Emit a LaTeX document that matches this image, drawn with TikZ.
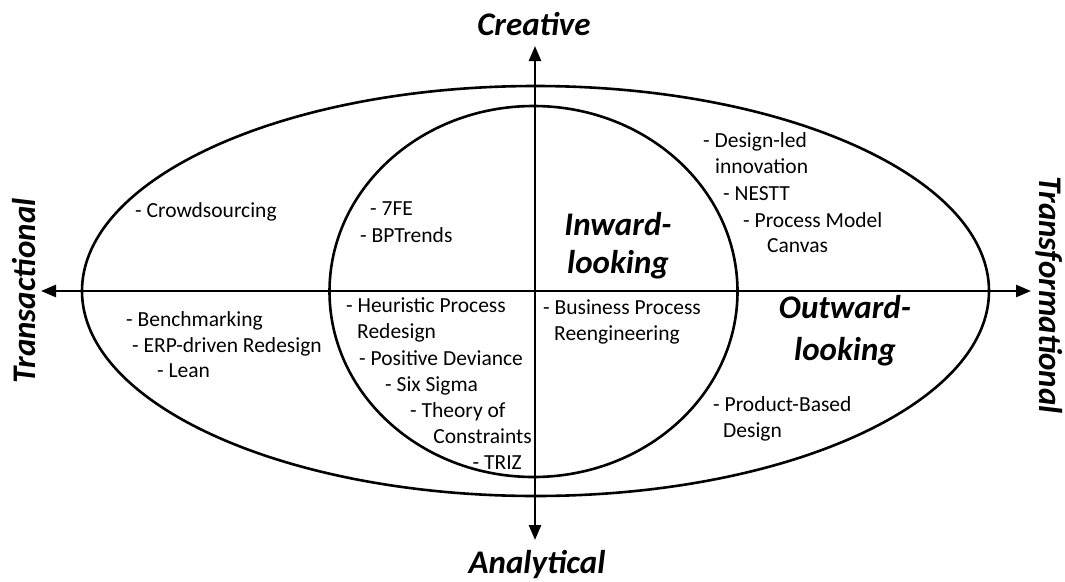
\documentclass[tikz,border=0pt]{standalone}
\usepackage{fontspec}
\setmainfont{Carlito}
\usetikzlibrary{arrows.meta}
\tikzset{
  item/.style={anchor=base west, inner sep=0pt, font=\fontsize{21.5}{26}\selectfont},
  itemr/.style={anchor=base east, inner sep=0pt, font=\fontsize{21.5}{26}\selectfont},
  big/.style={inner sep=0pt, font=\fontsize{33}{38}\selectfont\bfseries\itshape},
  ring/.style={line width=2.6pt},
  axis/.style={line width=2.6pt, {Triangle[length=15pt,width=12pt]}-{Triangle[length=15pt,width=12pt]}}
}
\begin{document}
\begin{tikzpicture}[x=1pt,y=-1pt]
\useasboundingbox (0,0) rectangle (1065,581);
% ellipses
\draw[ring] (535.5,291) ellipse [x radius=453.5, y radius=205];
\draw[ring] (533.5,291.5) ellipse [x radius=204, y radius=185.5];
% axes
\coordinate (top) at (535,46);
\coordinate (bottom) at (535,540);
\coordinate (left) at (41,291);
\coordinate (right) at (1031,291);
\draw[axis] (bottom) -- (top);
\draw[axis] (left) -- (right);
% axis labels
\node[big, anchor=base] (creative) at (534,35) {Creative};
\node[big, anchor=base] (analytical) at (537,573) {Analytical};
\node[big, anchor=base, rotate=90] (transactional) at (35,291) {Transactional};
\node[big, anchor=base, rotate=-90] (transformational) at (1039,295) {Transformational};
% quadrant labels
\node[big, anchor=base] (inward1) at (618,235) {Inward-};
\node[big, anchor=base] (inward2) at (618,273) {looking};
\node[big, anchor=base] (outward1) at (845,318) {Outward-};
\node[big, anchor=base] (outward2) at (845,360) {looking};
% items upper left
\node[item] (crowd) at (135,217) {- Crowdsourcing};
% items inner upper left
\node[item] (sevenfe) at (370,215) {- 7FE};
\node[item] (bptrends) at (360,242) {- BPTrends};
% items upper right
\node[item] (design1) at (703,147) {- Design-led};
\node[item] (design2) at (715,173) {innovation};
\node[item] (nestt) at (723,200) {- NESTT};
\node[item] (pmc1) at (743,227) {- Process Model};
\node[item] (pmc2) at (767,252) {Canvas};
% items lower left
\node[item] (bench) at (126,326) {- Benchmarking};
\node[item] (erp) at (132,352) {- ERP-driven Redesign};
\node[item] (lean) at (157,377) {- Lean};
% items inner lower left
\node[item] (heur1) at (346,312) {- Heuristic Process};
\node[item] (heur2) at (357,338) {Redesign};
\node[item] (posdev) at (359,365) {- Positive Deviance};
\node[item] (sixsigma) at (385,391) {- Six Sigma};
\node[item] (toc1) at (410,417) {- Theory of};
\node[itemr] (toc2) at (532,443) {Constraints};
\node[itemr] (triz) at (522,469) {- TRIZ};
% items inner lower right
\node[item] (bpr1) at (543,314) {- Business Process};
\node[item] (bpr2) at (554,340) {Reengineering};
% items lower right
\node[item] (pbd1) at (713,411) {- Product-Based};
\node[item] (pbd2) at (723,437) {Design};
\end{tikzpicture}
\end{document}
